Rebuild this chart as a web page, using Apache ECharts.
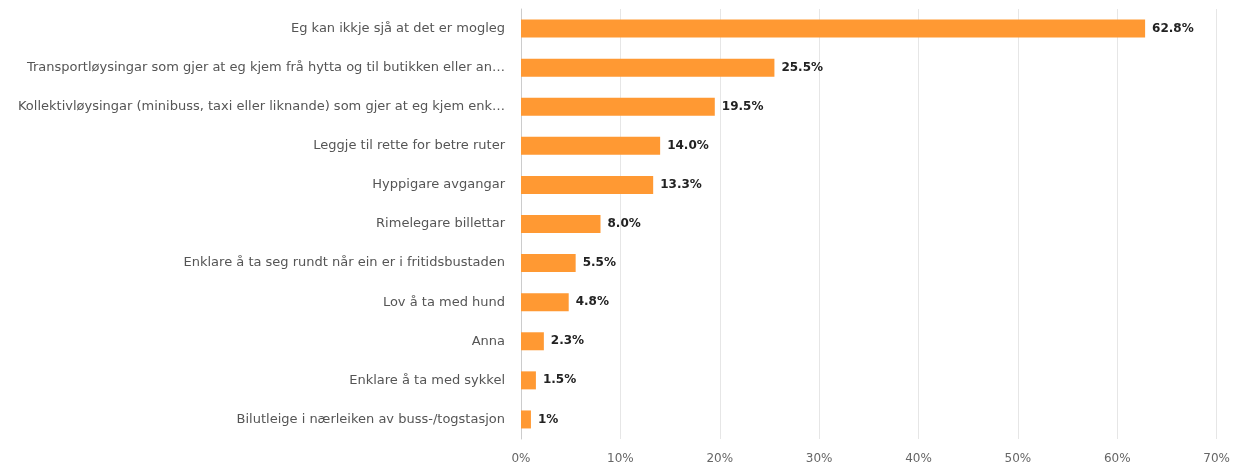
<!DOCTYPE html>
<html>
<head>
<meta charset="utf-8">
<style>
  html, body { margin: 0; padding: 0; background: #fff; }
  #chart { width: 1233px; height: 465px; }
</style>
<script src="https://cdn.jsdelivr.net/npm/echarts@6/dist/echarts.min.js"></script>
</head>
<body>
<div id="chart"></div>
<script>
// Answer options, top to bottom
const categories = [
  'Eg kan ikkje sjå at det er mogleg',
  'Transportløysingar som gjer at eg kjem frå hytta og til butikken eller an…',
  'Kollektivløysingar (minibuss, taxi eller liknande) som gjer at eg kjem enk…',
  'Leggje til rette for betre ruter',
  'Hyppigare avgangar',
  'Rimelegare billettar',
  'Enklare å ta seg rundt når ein er i fritidsbustaden',
  'Lov å ta med hund',
  'Anna',
  'Enklare å ta med sykkel',
  'Bilutleige i nærleiken av buss-/togstasjon'
];
// Share of respondents, percent
const values = [62.8, 25.5, 19.5, 14.0, 13.3, 8.0, 5.5, 4.8, 2.3, 1.5, 1];
const valueLabels = ['62.8%', '25.5%', '19.5%', '14.0%', '13.3%', '8.0%', '5.5%', '4.8%', '2.3%', '1.5%', '1%'];
const xTicks = [0, 10, 20, 30, 40, 50, 60, 70];

const chart = echarts.init(document.getElementById('chart'), null, { renderer: 'canvas' });
const font = '"DejaVu Sans", Verdana, sans-serif';

chart.setOption({
  animation: false,
  textStyle: { fontFamily: font },
  grid: { left: 521, right: 16, top: 9, bottom: 23, containLabel: false },
  xAxis: {
    type: 'value',
    min: xTicks[0],
    max: xTicks[xTicks.length - 1],
    interval: 10,
    axisLine: { show: false },
    axisTick: { show: false },
    splitLine: { show: true, lineStyle: { color: '#e6e6e6', width: 1 } },
    axisLabel: {
      color: '#666',
      fontSize: 12,
      fontFamily: font,
      margin: 14,
      formatter: v => v + '%'
    }
  },
  yAxis: {
    type: 'category',
    inverse: true,
    data: categories,
    axisLine: { show: true, lineStyle: { color: '#cccccc', width: 1 } },
    axisTick: { show: false },
    axisLabel: {
      color: '#555',
      fontSize: 13,
      fontFamily: font,
      margin: 16
    }
  },
  series: [{
    type: 'bar',
    data: values,
    barWidth: 18,
    itemStyle: { color: '#ff9933' },
    label: {
      show: true,
      position: 'right',
      distance: 7,
      color: '#222',
      fontWeight: 'bold',
      fontSize: 12,
      fontFamily: font,
      formatter: p => valueLabels[p.dataIndex]
    }
  }]
});
</script>
</body>
</html>
